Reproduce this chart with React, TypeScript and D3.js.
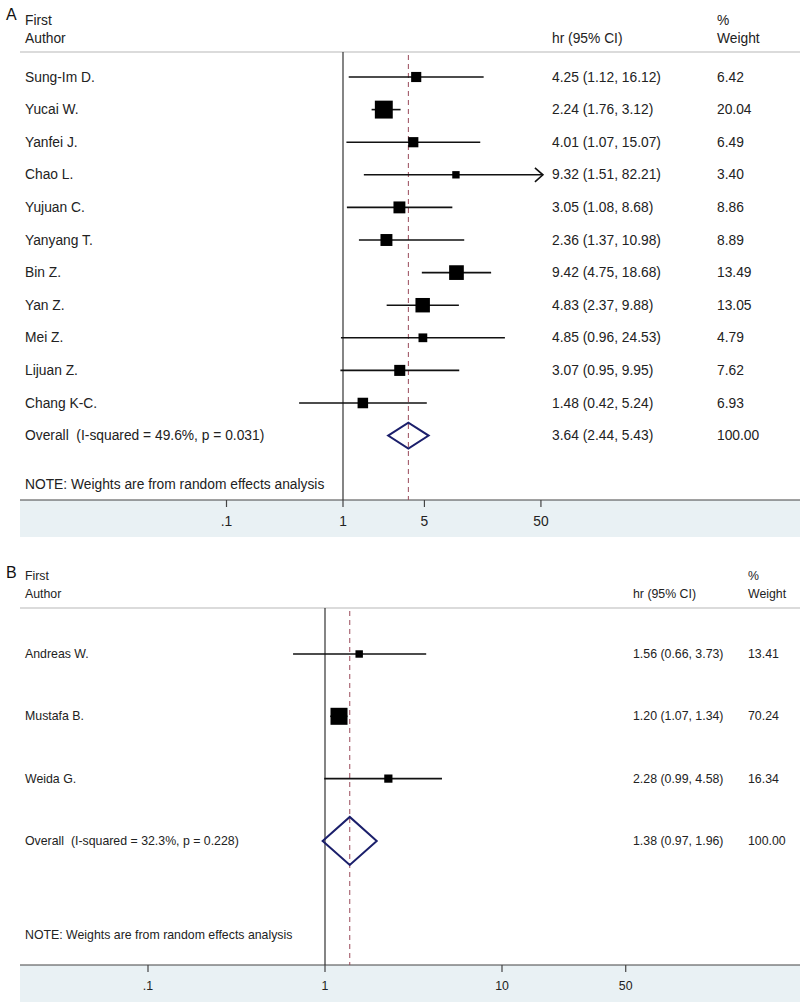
import React from "react";
import * as d3 from "d3";

const authorsA = ["Sung-Im D.", "Yucai W.", "Yanfei J.", "Chao L.", "Yujuan C.", "Yanyang T.", "Bin Z.", "Yan Z.", "Mei Z.", "Lijuan Z.", "Chang K-C."];
const hrA = [4.25, 2.24, 4.01, 9.32, 3.05, 2.36, 9.42, 4.83, 4.85, 3.07, 1.48];
const lowA = [1.12, 1.76, 1.07, 1.51, 1.08, 1.37, 4.75, 2.37, 0.96, 0.95, 0.42];
const highA = [16.12, 3.12, 15.07, 82.21, 8.68, 10.98, 18.68, 9.88, 24.53, 9.95, 5.24];
const weightA = [6.42, 20.04, 6.49, 3.4, 8.86, 8.89, 13.49, 13.05, 4.79, 7.62, 6.93];
const overallA = { label: "Overall  (I-squared = 49.6%, p = 0.031)", hr: 3.64, low: 2.44, high: 5.43, weight: 100 };
const ticksA = [0.1, 1, 5, 50];
const tickLabelsA = [".1", "1", "5", "50"];

const authorsB = ["Andreas W.", "Mustafa B.", "Weida G."];
const hrB = [1.56, 1.2, 2.28];
const lowB = [0.66, 1.07, 0.99];
const highB = [3.73, 1.34, 4.58];
const weightB = [13.41, 70.24, 16.34];
const overallB = { label: "Overall  (I-squared = 32.3%, p = 0.228)", hr: 1.38, low: 0.97, high: 1.96, weight: 100 };
const ticksB = [0.1, 1, 10, 50];
const tickLabelsB = [".1", "1", "10", "50"];

const note = "NOTE: Weights are from random effects analysis";

const fmtCI = (h: number, l: number, u: number) => `${h.toFixed(2)} (${l.toFixed(2)}, ${u.toFixed(2)})`;

type PanelCfg = {
  letter: string;
  authors: string[];
  hr: number[];
  low: number[];
  high: number[];
  weight: number[];
  overall: { label: string; hr: number; low: number; high: number; weight: number };
  ticks: number[];
  tickLabels: string[];
  x: d3.ScaleLogarithmic<number, number>;
  rowY0: number;
  rowStep: number;
  top: number;
  axisY: number;
  noteY: number;
  letterY: number;
  ciX: number;
  wX: number;
  font: string;
  fontSize: number;
  sqK: number;
  diamondH: number;
  bandBottom: number;
  textScale: number;
};

const GRID = "#cfcfcf";
const DASH = "#9a4a5a";
const NAVY = "#1b1f6b";
const BAND = "#e9f1f4";

function Panel({ c }: { c: PanelCfg }) {
  const n = c.authors.length;
  const yOf = (i: number) => c.rowY0 + i * c.rowStep;
  const [dMin, dMax] = c.x.domain();
  const oy = yOf(n);
  const textProps = (x: number, y: number) => ({
    x: 0,
    y: 0,
    transform: `translate(${x},${y}) scale(${c.textScale},1)`,
    fontFamily: c.font,
    fontSize: c.fontSize,
    dominantBaseline: "central" as const,
    fill: "#222",
    style: { whiteSpace: "pre" as const },
  });
  return (
    <g>
      <text x={6} y={c.letterY} fontFamily="Liberation Sans, Arial, sans-serif" fontSize={16} dominantBaseline="central" fill="#111">{c.letter}</text>
      <text {...textProps(25, c.top - 32)}>First</text>
      <text {...textProps(25, c.top - 14)}>Author</text>
      <text {...textProps(c.ciX, c.top - 14)}>hr (95% CI)</text>
      <text {...textProps(c.wX, c.top - 32)}>%</text>
      <text {...textProps(c.wX, c.top - 14)}>Weight</text>
      <line x1={20} x2={800} y1={c.top} y2={c.top} stroke={GRID} strokeWidth={1.5} />
      <rect x={20} y={c.axisY} width={780} height={c.bandBottom - c.axisY} fill={BAND} />
      <line x1={20} x2={800} y1={c.axisY} y2={c.axisY} stroke="#444" strokeWidth={1.2} />
      {c.ticks.map((t, i) => (
        <g key={t}>
          <line x1={c.x(t)} x2={c.x(t)} y1={c.axisY} y2={c.axisY + 7} stroke="#444" strokeWidth={1.2} />
          <text x={0} y={0} textAnchor="middle" fontFamily={c.font} fontSize={c.fontSize} dominantBaseline="central" fill="#222"
            transform={`translate(${c.x(t)},${c.axisY + 21}) scale(${c.textScale},1)`}>{c.tickLabels[i]}</text>
        </g>
      ))}
      <line x1={c.x(1)} x2={c.x(1)} y1={c.top} y2={c.axisY} stroke="#333" strokeWidth={1.2} />
      <line x1={c.x(c.overall.hr)} x2={c.x(c.overall.hr)} y1={c.top + 3} y2={c.axisY} stroke={DASH} strokeWidth={1} strokeDasharray="5,4" />
      {c.authors.map((a, i) => {
        const y = yOf(i);
        const clippedHigh = c.high[i] > dMax;
        const x1 = c.x(Math.max(c.low[i], dMin));
        const x2 = c.x(Math.min(c.high[i], dMax));
        const s = c.sqK * Math.sqrt(c.weight[i]);
        const cx = c.x(c.hr[i]);
        return (
          <g key={a}>
            <text {...textProps(25, y)}>{a}</text>
            <line x1={x1} x2={clippedHigh ? x2 + 2 : x2} y1={y} y2={y} stroke="#111" strokeWidth={1.6} />
            {clippedHigh && (
              <path d={`M${x2 - 6},${y - 7} L${x2 + 2},${y} L${x2 - 6},${y + 7}`} fill="none" stroke="#111" strokeWidth={1.6} />
            )}
            <rect x={cx - s / 2} y={y - s / 2} width={s} height={s} fill="#000" />
            <text {...textProps(c.ciX, y)}>{fmtCI(c.hr[i], c.low[i], c.high[i])}</text>
            <text {...textProps(c.wX, y)}>{c.weight[i].toFixed(2)}</text>
          </g>
        );
      })}
      <text {...textProps(25, oy)}>{c.overall.label}</text>
      <path
        d={`M${c.x(c.overall.low)},${oy} L${c.x(c.overall.hr)},${oy - c.diamondH} L${c.x(c.overall.high)},${oy} L${c.x(c.overall.hr)},${oy + c.diamondH} Z`}
        fill="none" stroke={NAVY} strokeWidth={2}
      />
      <text {...textProps(c.ciX, oy)}>{fmtCI(c.overall.hr, c.overall.low, c.overall.high)}</text>
      <text {...textProps(c.wX, oy)}>{c.overall.weight.toFixed(2)}</text>
      <text {...textProps(25, c.noteY)}>{note}</text>
    </g>
  );
}

export default function App() {
  const xA = d3.scaleLog().domain([0.1, 50]).range([343 - 116.5, 343 + 116.5 * Math.log10(50)]);
  const xB = d3.scaleLog().domain([0.1, 50]).range([325 - 177, 325 + 177 * Math.log10(50)]);
  const cfgA: PanelCfg = {
    letter: "A", authors: authorsA, hr: hrA, low: lowA, high: highA, weight: weightA, overall: overallA,
    ticks: ticksA, tickLabels: tickLabelsA, x: xA,
    rowY0: 77, rowStep: 32.6, top: 52, axisY: 500, noteY: 484, letterY: 14,
    ciX: 552, wX: 717, font: "Liberation Sans, Arial, sans-serif", fontSize: 13.8, sqK: 4.0, diamondH: 13, bandBottom: 537, textScale: 1,
  };
  const cfgB: PanelCfg = {
    letter: "B", authors: authorsB, hr: hrB, low: lowB, high: highB, weight: weightB, overall: overallB,
    ticks: ticksB, tickLabels: tickLabelsB, x: xB,
    rowY0: 654, rowStep: 62.3, top: 608, axisY: 965, noteY: 935, letterY: 572,
    ciX: 633, wX: 748, font: "Liberation Sans, Arial, sans-serif", fontSize: 13, sqK: 2.03, diamondH: 24, bandBottom: 1002, textScale: 0.95,
  };
  return (
    <svg width={800} height={1002} style={{ position: "absolute", left: 0, top: 0, background: "#fff" }}>
      <rect width={800} height={1002} fill="#fff" />
      <Panel c={cfgA} />
      <Panel c={cfgB} />
    </svg>
  );
}
